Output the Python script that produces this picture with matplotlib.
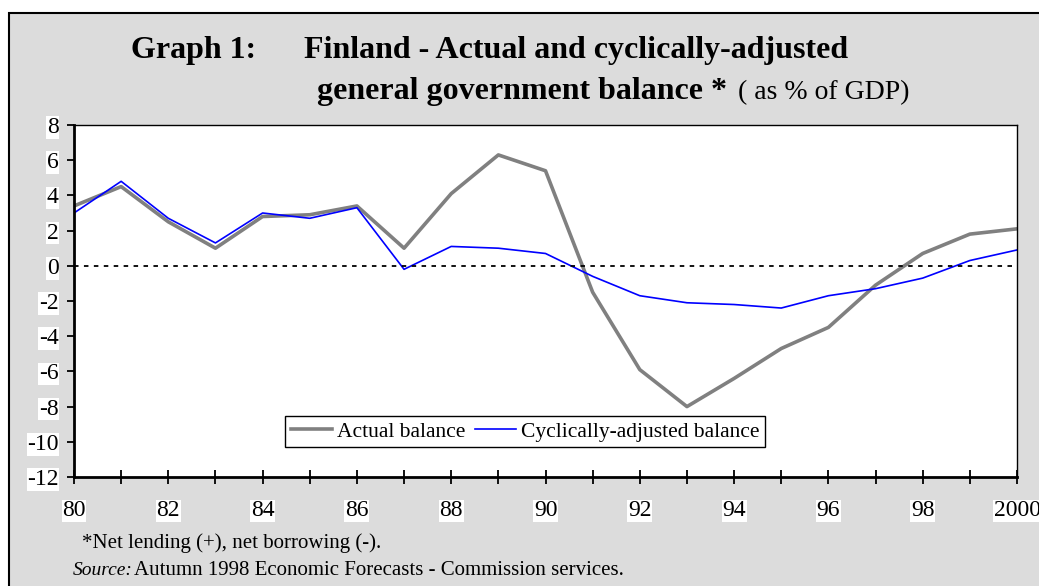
import matplotlib.pyplot as plt
from matplotlib.patches import Rectangle

plt.rcParams['font.family'] = ['Liberation Serif', 'DejaVu Serif']
plt.rcParams['axes.unicode_minus'] = False

years = list(range(1980, 2001))
actual = [3.4, 4.5, 2.5, 1.0, 2.8, 2.9, 3.4, 1.0, 4.1, 6.3, 5.4,
          -1.5, -5.9, -8.0, -6.4, -4.7, -3.5, -1.1, 0.7, 1.8, 2.1]
cyclical = [3.0, 4.8, 2.7, 1.3, 3.0, 2.7, 3.3, -0.2, 1.1, 1.0, 0.7,
            -0.6, -1.7, -2.1, -2.2, -2.4, -1.7, -1.3, -0.7, 0.3, 0.9]
xlabels = ['80', '82', '84', '86', '88', '90', '92', '94', '96', '98', '2000']

W, H = 1039, 586
fig = plt.figure(figsize=(W / 100, H / 100), dpi=100)

# grey panel with black frame behind everything
fig.patches.append(Rectangle((9 / W, -0.1), 1.1, 1 - 13 / H + 0.1,
                             transform=fig.transFigure, facecolor='#dcdcdc',
                             edgecolor='black', linewidth=1.5, zorder=-1))

ax = fig.add_axes([74 / W, 1 - 477 / H, (1017 - 74) / W, (477 - 125) / H])
ax.set_facecolor('white')

ax.plot(years, actual, color='#808080', linewidth=2.6, label='Actual balance')
ax.plot(years, cyclical, color='#0000ff', linewidth=1.2,
        label='Cyclically-adjusted balance')
ax.axhline(0, color='black', linewidth=1.3, linestyle=(0, (2.5, 3)))

ax.set_xlim(1980, 2000)
ax.set_ylim(-12, 8)
ax.set_yticks(range(-12, 9, 2))
ax.set_xticks(range(1980, 2001, 2))
ax.set_xticklabels(xlabels)
ax.set_xticks(range(1980, 2001), minor=True)
ax.tick_params(axis='x', which='both', direction='inout', length=9.5,
               width=1.3, labelsize=17, pad=12)
ax.tick_params(axis='y', direction='out', length=5, width=1.3, labelsize=17,
               pad=6)
for lab in ax.get_xticklabels() + ax.get_yticklabels():
    lab.set_bbox(dict(facecolor='white', edgecolor='none', pad=0.5))

for side in ['left', 'bottom']:
    ax.spines[side].set_linewidth(2)
for side in ['top', 'right']:
    ax.spines[side].set_linewidth(1)

leg = ax.legend(loc='lower left', bbox_to_anchor=(0.224, 0.085), ncol=2,
                fontsize=15.5, frameon=True, fancybox=False, borderpad=0.25,
                handlelength=1.9, handletextpad=0.25, columnspacing=0.45,
                borderaxespad=0)
leg.get_frame().set_edgecolor('black')
leg.get_frame().set_linewidth(1)
leg.get_frame().set_alpha(1)

fig.text(131 / W, 1 - 58 / H, 'Graph 1:', fontsize=23, fontweight='bold',
         va='baseline')
fig.text(304 / W, 1 - 58 / H, 'Finland - Actual and cyclically-adjusted',
         fontsize=23, fontweight='bold', va='baseline')
t = fig.text(317 / W, 1 - 99 / H, 'general government balance *',
             fontsize=23, fontweight='bold', va='baseline')
fig.canvas.draw()
bb = t.get_window_extent()
fig.text((bb.x1 + 11) / W, 1 - 99 / H, '( as % of GDP)', fontsize=20,
         va='baseline')

fig.text(82 / W, 1 - 548 / H, '*Net lending (+), net borrowing (-).',
         fontsize=15, va='baseline')
fig.text(73 / W, 1 - 575 / H, 'Source:', fontsize=14, style='italic',
         va='baseline')
fig.text(134 / W, 1 - 575 / H,
         'Autumn 1998 Economic Forecasts - Commission services.',
         fontsize=15, va='baseline')

fig.savefig('out.png', dpi=100)
